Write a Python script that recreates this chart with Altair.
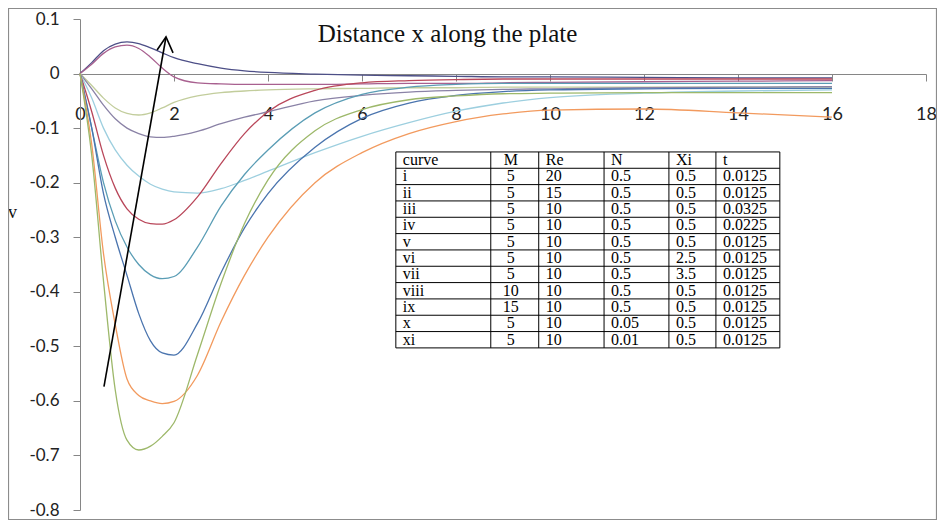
import altair as alt
import pandas as pd

# ---------------- data ----------------
xs = [0, 0.25, 0.5, 0.75, 1, 1.25, 1.5, 1.75, 2, 2.5, 3, 3.5, 4, 5, 6, 7, 8, 9, 10, 12, 14, 16]

c_navy = [0, 0.02, 0.042, 0.054, 0.058, 0.055, 0.047, 0.038, 0.029, 0.018, 0.01, 0.005, 0.002, -0.001, -0.003, -0.004, -0.005, -0.006, -0.006, -0.007, -0.008, -0.008]
c_pink = [0, 0.017, 0.037, 0.049, 0.052, 0.046, 0.03, 0.01, -0.006, -0.017, -0.019, -0.02, -0.02, -0.02, -0.019, -0.018, -0.018, -0.017, -0.016, -0.015, -0.014, -0.013]
c_olive = [0, -0.022, -0.045, -0.063, -0.073, -0.076, -0.072, -0.063, -0.053, -0.041, -0.035, -0.032, -0.03, -0.028, -0.027, -0.026, -0.026, -0.025, -0.025, -0.025, -0.025, -0.025]
c_lav = [0, -0.028, -0.058, -0.083, -0.1, -0.11, -0.116, -0.117, -0.115, -0.106, -0.092, -0.08, -0.07, -0.05, -0.04, -0.034, -0.031, -0.029, -0.028, -0.026, -0.025, -0.024]
c_lcyan = [0, -0.045, -0.1, -0.14, -0.168, -0.188, -0.203, -0.212, -0.217, -0.219, -0.211, -0.196, -0.179, -0.145, -0.115, -0.09, -0.069, -0.054, -0.044, -0.036, -0.032, -0.03]
c_red = [0, -0.07, -0.15, -0.21, -0.248, -0.267, -0.275, -0.276, -0.268, -0.226, -0.165, -0.11, -0.07, -0.031, -0.017, -0.013, -0.011, -0.01, -0.01, -0.01, -0.01, -0.01]
c_teal = [0, -0.1, -0.2, -0.27, -0.318, -0.35, -0.369, -0.376, -0.372, -0.318, -0.243, -0.185, -0.14, -0.072, -0.038, -0.025, -0.02, -0.018, -0.018, -0.018, -0.018, -0.018]
c_blue = [0, -0.1, -0.22, -0.3, -0.37, -0.44, -0.49, -0.512, -0.516, -0.458, -0.365, -0.283, -0.22, -0.135, -0.082, -0.054, -0.04, -0.033, -0.03, -0.028, -0.027, -0.027]
c_orange = [0, -0.13, -0.33, -0.46, -0.56, -0.59, -0.6, -0.605, -0.601, -0.553, -0.455, -0.37, -0.3, -0.2, -0.145, -0.11, -0.088, -0.074, -0.067, -0.065, -0.072, -0.08]
c_green = [0, -0.15, -0.38, -0.58, -0.672, -0.69, -0.683, -0.665, -0.64, -0.515, -0.385, -0.275, -0.195, -0.105, -0.066, -0.048, -0.041, -0.037, -0.036, -0.035, -0.035, -0.035]

curve_names = ["navy", "pink", "olive", "lavender", "lightcyan", "red", "teal", "blue", "orange", "green"]
curve_values = [c_navy, c_pink, c_olive, c_lav, c_lcyan, c_red, c_teal, c_blue, c_orange, c_green]
curve_colors = ["#4D4F87", "#A8608F", "#C2CD9C", "#8A82A6", "#9DCFDF", "#B9475A", "#5A9DB5", "#4A74AE", "#F29A5E", "#9DB86A"]

# arrow (shaft and head), in data units
arrow_x = [0.51, 1.83]
arrow_v = [-0.574, 0.067]
head_x = [1.64, 1.83, 1.98]
head_v = [0.0433, 0.067, 0.0378]

# table content
tbl_curve = ["curve", "i", "ii", "iii", "iv", "v", "vi", "vii", "viii", "ix", "x", "xi"]
tbl_M = ["M", "5", "5", "5", "5", "5", "5", "5", "10", "15", "5", "5"]
tbl_Re = ["Re", "20", "15", "10", "10", "10", "10", "10", "10", "10", "10", "10"]
tbl_N = ["N", "0.5", "0.5", "0.5", "0.5", "0.5", "0.5", "0.5", "0.5", "0.5", "0.05", "0.01"]
tbl_Xi = ["Xi", "0.5", "0.5", "0.5", "0.5", "0.5", "2.5", "3.5", "0.5", "0.5", "0.5", "0.5"]
tbl_t = ["t", "0.0125", "0.0125", "0.0325", "0.0225", "0.0125", "0.0125", "0.0125", "0.0125", "0.0125", "0.0125", "0.0125"]

# table layout (data units)
col_edges = [6.72, 8.74, 9.76, 11.15, 12.53, 13.53, 14.89]
tbl_top = -0.1437
row_h = 0.02993

y_ticks = [0.1, 0, -0.1, -0.2, -0.3, -0.4, -0.5, -0.6, -0.7, -0.8]
x_ticks = [0, 2, 4, 6, 8, 10, 12, 14, 16, 18]

# ---------------- frames ----------------
rows = []
for name, vals in zip(curve_names, curve_values):
    for x, v in zip(xs, vals):
        rows.append({"curve": name, "x": x, "v": v})
df_lines = pd.DataFrame(rows)

arrow_rows = [{"seg": "shaft", "i": i, "x": x, "v": v} for i, (x, v) in enumerate(zip(arrow_x, arrow_v))]
arrow_rows += [{"seg": "head", "i": i, "x": x, "v": v} for i, (x, v) in enumerate(zip(head_x, head_v))]
df_arrow = pd.DataFrame(arrow_rows)

n_rows = len(tbl_curve)
tbl_bottom = tbl_top - n_rows * row_h
df_hrules = pd.DataFrame({"x": [col_edges[0]] * (n_rows + 1), "x2": [col_edges[-1]] * (n_rows + 1),
                          "v": [tbl_top - k * row_h for k in range(n_rows + 1)]})
df_vrules = pd.DataFrame({"x": col_edges, "v": [tbl_top] * len(col_edges), "v2": [tbl_bottom] * len(col_edges)})
df_bg = pd.DataFrame({"x": [col_edges[0]], "x2": [col_edges[-1]], "v": [tbl_top], "v2": [tbl_bottom]})

cols = [tbl_curve, tbl_M, tbl_Re, tbl_N, tbl_Xi, tbl_t]
cell_rows = []
for ci, col in enumerate(cols):
    for ri, txt in enumerate(col):
        cell_rows.append({"x": col_edges[ci], "xc": (col_edges[ci] + col_edges[ci + 1]) / 2,
                          "v": tbl_top - (ri + 0.5) * row_h, "txt": txt, "col": ci})
df_cells = pd.DataFrame(cell_rows)

# ---------------- chart ----------------
W, H = 846, 491
xscale = alt.Scale(domain=[0, 18], nice=False, zero=False)
yscale = alt.Scale(domain=[-0.8, 0.1], nice=False, zero=False)

x_axis = alt.Axis(values=x_ticks, offset=-436, tickSize=7, labelPadding=24,
                  labelFont="Lato", labelFontSize=18, labelColor="#222222",
                  domainColor="#868686", tickColor="#868686", grid=False,
                  labelFlush=False, labelOverlap=False,
                  title="Distance x along the plate", titleFont="Liberation Serif",
                  titleFontSize=25, titleFontWeight="normal", titleColor="#111111",
                  titleX=367, titleY=-41, titleAlign="center", titleBaseline="middle")
y_axis = alt.Axis(values=y_ticks, tickSize=7, labelPadding=14,
                  labelFont="Lato", labelFontSize=17, labelColor="#222222",
                  labelExpr="datum.value == 0 ? '0' : (datum.value < 0 ? '-' + format(-datum.value, '.1f') : format(datum.value, '.1f'))",
                  domainColor="#868686", tickColor="#868686", grid=False,
                  labelOverlap=False, labelFlush=False,
                  title="v", titleAngle=0, titleX=-68, titleY=193, titleAlign="center",
                  titleBaseline="middle", titleFont="Liberation Serif", titleFontSize=18,
                  titleFontWeight="normal", titleColor="#111111")

X = lambda f: alt.X(f, scale=xscale, axis=x_axis)
Y = lambda f: alt.Y(f, scale=yscale, axis=y_axis)

lines = alt.Chart(df_lines).mark_line(strokeWidth=1.3, interpolate="monotone").encode(
    x=X("x:Q"),
    y=Y("v:Q"),
    color=alt.Color("curve:N", scale=alt.Scale(domain=curve_names, range=curve_colors), legend=None),
    detail="curve:N",
)

border = alt.Chart(pd.DataFrame({"a": [0]})).mark_rect(
    fill="white", fillOpacity=0, stroke="#8c8c8c", strokeWidth=1.2
).encode(x=alt.value(-71.5), x2=alt.value(W + 10.5), y=alt.value(-10.5), y2=alt.value(H + 9.5))

arrow = alt.Chart(df_arrow).mark_line(color="black", strokeWidth=1.6).encode(
    x=X("x:Q"),
    y=Y("v:Q"),
    detail="seg:N",
    order="i:Q",
)

bg = alt.Chart(df_bg).mark_rect(fill="white").encode(
    x=X("x:Q"), x2="x2:Q",
    y=Y("v:Q"), y2="v2:Q",
)
hrules = alt.Chart(df_hrules).mark_rule(color="black", strokeWidth=1).encode(
    x=X("x:Q"), x2="x2:Q",
    y=Y("v:Q"),
)
vrules = alt.Chart(df_vrules).mark_rule(color="black", strokeWidth=1).encode(
    x=X("x:Q"),
    y=Y("v:Q"), y2="v2:Q",
)
txt_left = alt.Chart(df_cells[df_cells["col"] != 1]).mark_text(
    align="left", baseline="middle", dx=7, font="Liberation Serif", fontSize=16, color="black"
).encode(
    x=X("x:Q"),
    y=Y("v:Q"),
    text="txt:N",
)
txt_mid = alt.Chart(df_cells[df_cells["col"] == 1]).mark_text(
    align="center", baseline="middle", dx=-4, font="Liberation Serif", fontSize=16, color="black"
).encode(
    x=X("xc:Q"),
    y=Y("v:Q"),
    text="txt:N",
)

chart = alt.layer(lines, border, arrow, bg, hrules, vrules, txt_left, txt_mid).properties(
    width=W, height=H,
    autosize=alt.AutoSizeParams(type="none"),
    padding={"left": 72, "top": 11, "right": 11, "bottom": 10},
    background="white",
).configure_view(stroke=None)

chart.save("out.html", embed_options={"renderer": "svg", "actions": False})
